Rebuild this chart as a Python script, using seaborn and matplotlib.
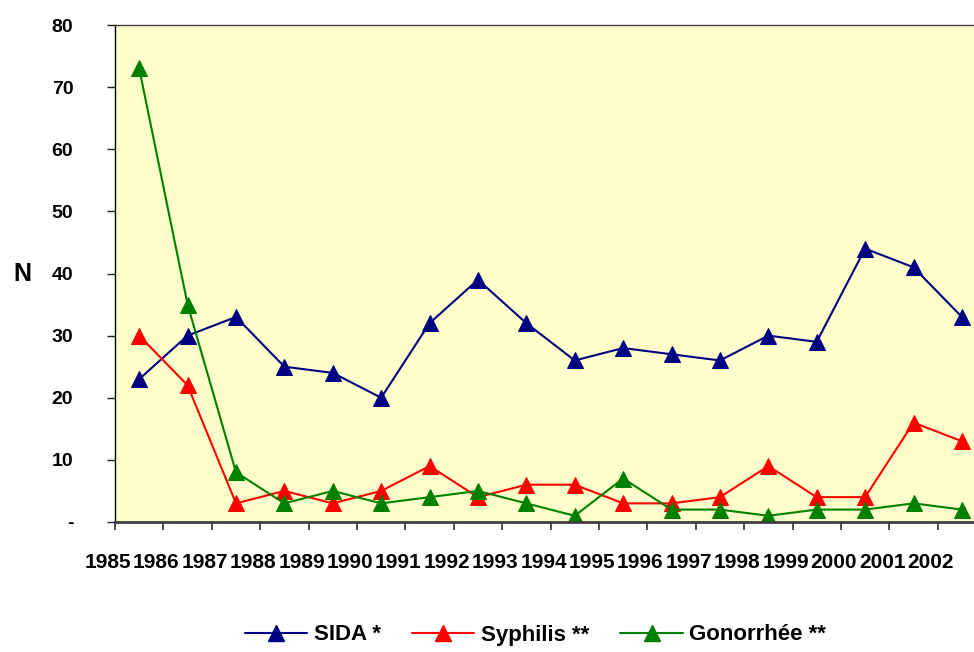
import matplotlib

matplotlib.use("Agg")

import matplotlib.pyplot as plt
import numpy as np
import seaborn as sns
from matplotlib.lines import Line2D
from matplotlib.transforms import ScaledTranslation

years = [str(y) for y in range(1985, 2003)]
sida = [23, 30, 33, 25, 24, 20, 32, 39, 32, 26, 28, 27, 26, 30, 29, 44, 41, 33]
syphilis = [30, 22, 3, 5, 3, 5, 9, 4, 6, 6, 3, 3, 4, 9, 4, 4, 16, 13]
gonorrhee = [73, 35, 8, 3, 5, 3, 4, 5, 3, 1, 7, 2, 2, 1, 2, 2, 3, 2]

series_names = ["SIDA *", "Syphilis **", "Gonorrhée **"]
series_values = [sida, syphilis, gonorrhee]
series_colors = ["#000080", "#FF0000", "#008000"]

sns.set_theme(style="white")
plt.rcParams["font.family"] = ["Liberation Sans", "DejaVu Sans"]
plt.rcParams["font.weight"] = "bold"
plt.rcParams["text.color"] = "black"
plt.rcParams["xtick.color"] = "black"
plt.rcParams["ytick.color"] = "black"

fig = plt.figure(figsize=(9.74, 6.52), dpi=100)
ax = fig.add_axes([115 / 974, 1 - 522 / 652, 1 - 115 / 974, (522 - 25) / 652])
ax.set_facecolor("#FFFFCC")

# points sit between the category ticks (Excel style)
positions = np.arange(len(years)) + 0.5
handles = []
for name, values, color in zip(series_names, series_values, series_colors):
    sns.lineplot(
        x=positions,
        y=values,
        ax=ax,
        color=color,
        marker="^",
        markersize=11,
        markeredgecolor=color,
        linewidth=1.5,
    )
    handles.append(
        Line2D([], [], color=color, marker="^", markersize=11, linewidth=1.5, label=name)
    )

ax.set_xlim(0, 17.75)
ax.set_ylim(0, 80)
ax.set_yticks(range(0, 81, 10))
ax.set_yticklabels(["-"] + [str(v) for v in range(10, 81, 10)], fontsize=14, fontweight="bold")
ax.set_xticks(range(len(years)))
ax.set_xticklabels(years, fontsize=15, fontweight="bold")
ax.tick_params(axis="y", direction="out", length=6, width=1, color="#202020", pad=24, left=True)
ax.tick_params(axis="x", direction="out", length=6, width=1.3, color="#404040", pad=16, bottom=True)
shift = ScaledTranslation(-7 / 100, 0, fig.dpi_scale_trans)
for label in ax.get_xticklabels():
    label.set_transform(label.get_transform() + shift)

ax.spines["right"].set_visible(False)
ax.spines["top"].set_color("#404040")
ax.spines["top"].set_linewidth(1)
ax.spines["left"].set_color("#000000")
ax.spines["left"].set_linewidth(1)
ax.spines["bottom"].set_color("#404040")
ax.spines["bottom"].set_linewidth(2)
ax.grid(False)

fig.text(22 / 974, 1 - 274 / 652, "N", fontsize=18, fontweight="bold", ha="center", va="center")

fig.legend(
    handles=handles,
    loc="center",
    bbox_to_anchor=(0.55, 1 - 635 / 652),
    ncol=3,
    frameon=False,
    prop={"size": 16, "weight": "bold"},
    handlelength=2.8,
    columnspacing=1.4,
    handletextpad=0.3,
)

fig.savefig("out.png", dpi=100)
